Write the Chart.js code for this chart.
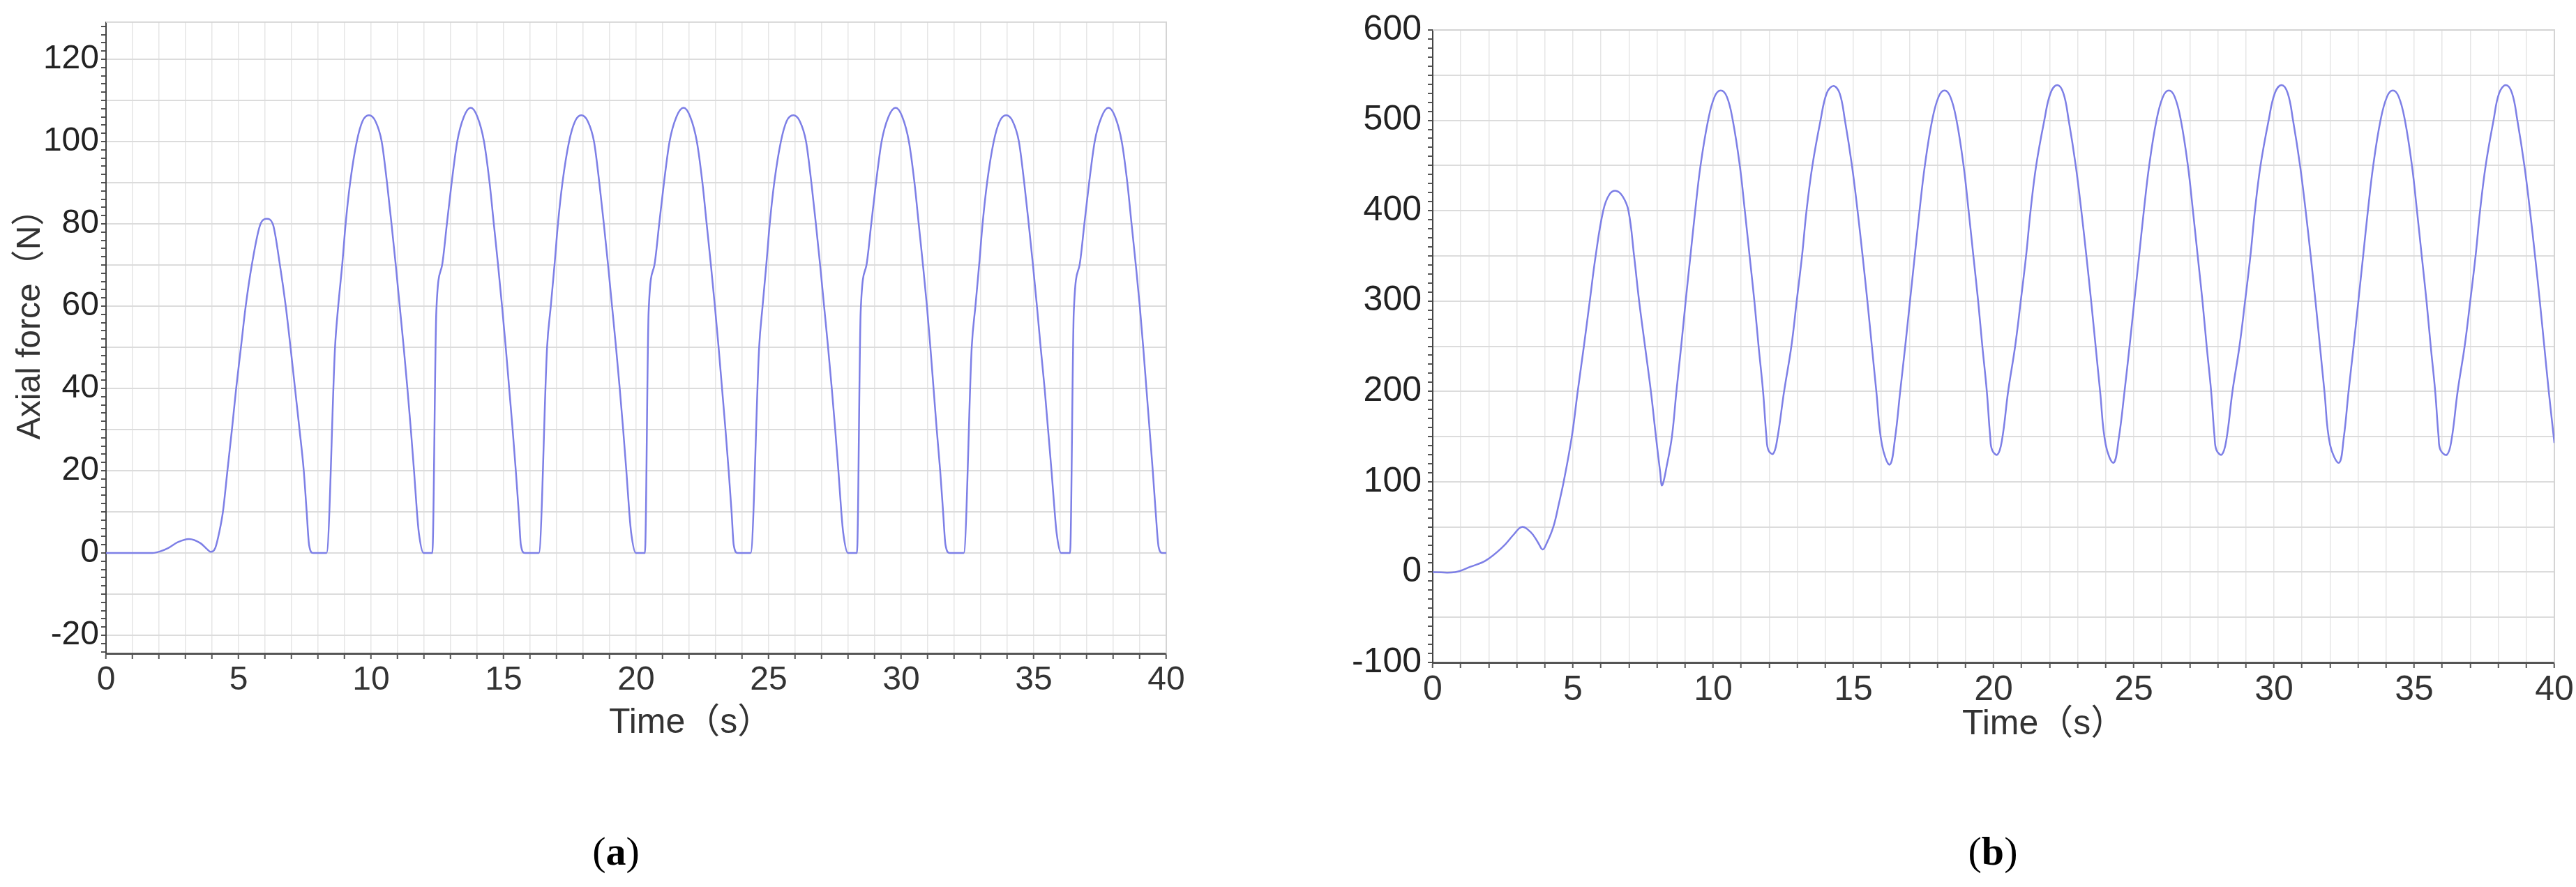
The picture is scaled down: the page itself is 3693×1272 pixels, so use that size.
<!DOCTYPE html>
<html>
<head>
<meta charset="utf-8">
<script src="https://cdn.jsdelivr.net/npm/chart.js@4.4.0/dist/chart.umd.min.js"></script>
<style>
  body { margin: 0; background: #fff; }
  #page { position: relative; width: 3693px; height: 1272px; overflow: hidden; }
  canvas { position: absolute; top: 0; }
  #chart-a { left: 0; }
  #chart-b { left: 1880px; }
  .axis-title {
    position: absolute; white-space: nowrap; color: #333;
    font-family: 'Liberation Sans', Arial, 'Noto Sans CJK SC', sans-serif;
    font-size: 50px; line-height: 60px;
  }
  #ytitle-a { left: -159px; top: 423px; width: 400px; text-align: center; font-size: 48px; transform: rotate(-90deg); }
  .caption {
    position: absolute; top: 1187px; width: 200px; text-align: center;
    font-family: 'Liberation Serif', 'Times New Roman', serif; font-size: 58px; color: #000;
  }
</style>
</head>
<body>
<div id="page">
  <canvas id="chart-a" width="1760" height="1080"></canvas>
  <canvas id="chart-b" width="1813" height="1090"></canvas>
  <div class="axis-title" id="ytitle-a">Axial force（N）</div>
  <div class="axis-title" style="left: 873px; top: 1004px">Time（s）</div>
  <div class="axis-title" style="left: 2813px; top: 1006px">Time（s）</div>
  <div class="caption" style="left: 783px">(<b>a</b>)</div>
  <div class="caption" style="left: 2757px">(<b>b</b>)</div>
</div>
<script>
// (a) axial force, N
const timeA = [
  0, 1.75, 2.05, 2.35, 2.7, 3.13, 3.56, 3.8, 3.94, 4.12, 4.27, 4.41, 4.58, 4.75, 4.91,
  5.09, 5.27, 5.50, 5.83, 6.07, 6.29, 6.56, 6.78, 6.96, 7.13, 7.30, 7.46, 7.57, 7.66, 7.81,
  8.32, 8.64, 8.76, 8.91, 9.04, 9.21, 9.46, 9.68, 9.92, 10.16, 10.40, 10.60, 10.77, 10.93, 11.08,
  11.23, 11.37, 11.50, 11.62, 11.73, 11.80, 11.98,
  12.31, 12.46, 12.68, 12.86, 13.04, 13.25, 13.50, 13.76, 14.01, 14.26, 14.47, 14.63, 14.79, 14.94,
  15.08, 15.21, 15.34, 15.46, 15.57, 15.65, 15.80,
  16.33, 16.64, 16.78, 16.92, 17.05, 17.22, 17.47, 17.70, 17.93, 18.17, 18.41, 18.61, 18.78, 18.94, 19.09,
  19.24, 19.38, 19.51, 19.63, 19.74, 19.81, 19.99,
  20.33, 20.47, 20.69, 20.87, 21.05, 21.26, 21.52, 21.79, 22.04, 22.29, 22.50, 22.66, 22.82, 22.97,
  23.11, 23.24, 23.37, 23.49, 23.60, 23.68, 23.83,
  24.32, 24.64, 24.77, 24.91, 25.04, 25.21, 25.46, 25.68, 25.93, 26.17, 26.41, 26.61, 26.78, 26.94, 27.09,
  27.24, 27.38, 27.51, 27.63, 27.74, 27.81, 27.99,
  28.33, 28.47, 28.69, 28.87, 29.05, 29.26, 29.52, 29.79, 30.04, 30.29, 30.50, 30.66, 30.82, 30.97,
  31.10, 31.22, 31.34, 31.47, 31.58, 31.67, 31.83,
  32.36, 32.66, 32.80, 32.94, 33.07, 33.24, 33.49, 33.72, 33.96, 34.20, 34.44, 34.64, 34.81, 34.97, 35.12,
  35.26, 35.41, 35.54, 35.67, 35.79, 35.86, 36.03,
  36.37, 36.51, 36.73, 36.91, 37.09, 37.30, 37.56, 37.82, 38.07, 38.32, 38.53, 38.69, 38.85, 39.00,
  39.13, 39.25, 39.37, 39.49, 39.60, 39.71, 39.86, 40.0
];
const forceA = [
  0, 0, 0.4, 1.2, 2.6, 3.4, 2.4, 1.0, 0.3, 1.2, 5, 10, 20, 30, 40,
  50, 60, 70, 80, 81.2, 80, 70, 60, 50, 40, 30, 20, 10, 2, 0,
  0, 50, 60, 70, 80, 90, 100, 105, 106.4, 105, 100, 90, 80, 70, 60,
  50, 40, 30, 20, 10, 5, 0,
  0, 58.5, 70, 80, 90, 100, 106, 108.2, 106, 100, 90, 80, 70, 60,
  50, 40, 30, 20, 10, 2, 0,
  0, 50, 60, 70, 80, 90, 100, 105, 106.4, 105, 100, 90, 80, 70, 60,
  50, 40, 30, 20, 10, 5, 0,
  0, 58.5, 70, 80, 90, 100, 106, 108.2, 106, 100, 90, 80, 70, 60,
  50, 40, 30, 20, 10, 2, 0,
  0, 50, 60, 70, 80, 90, 100, 105, 106.4, 105, 100, 90, 80, 70, 60,
  50, 40, 30, 20, 10, 5, 0,
  0, 58.5, 70, 80, 90, 100, 106, 108.2, 106, 100, 90, 80, 70, 60,
  50, 40, 30, 20, 10, 2, 0,
  0, 50, 60, 70, 80, 90, 100, 105, 106.4, 105, 100, 90, 80, 70, 60,
  50, 40, 30, 20, 10, 5, 0,
  0, 58.5, 70, 80, 90, 100, 106, 108.2, 106, 100, 90, 80, 70, 60,
  50, 40, 30, 20, 10, 1.5, 0, 0
];

// (b) second signal
const timeB = [
  0, 0.8, 1.35, 1.9, 2.5, 2.9, 3.18, 3.5, 3.75, 3.92,
  4.05, 4.3, 4.5, 4.67, 4.96, 5.17, 5.39, 5.60, 5.81, 6.08,
  6.3, 6.54, 6.77, 6.98, 7.18, 7.36, 7.57, 7.78, 7.96, 8.11, 8.18,
  8.36, 8.53, 8.69, 8.86, 9.02, 9.19, 9.36, 9.55, 9.82, 10.05, 10.27,
  10.49, 10.70, 10.95, 11.13, 11.30, 11.47, 11.62, 11.78, 11.90, 11.97, 12.14,
  12.28, 12.53, 12.79, 12.98, 13.17, 13.33, 13.54, 13.83, 14.05, 14.29,
  14.51, 14.70, 14.95, 15.15, 15.33, 15.50, 15.66, 15.82, 16.02, 16.30,
  16.49, 16.67, 16.85, 17.02, 17.19, 17.36, 17.55, 17.81, 18.04, 18.25,
  18.46, 18.68, 18.93, 19.11, 19.28, 19.45, 19.60, 19.76, 19.88, 19.95, 20.14,
  20.30, 20.52, 20.77, 20.97, 21.16, 21.32, 21.52, 21.81, 22.03, 22.27,
  22.49, 22.68, 22.93, 23.13, 23.31, 23.48, 23.64, 23.80, 24.00, 24.28,
  24.47, 24.67, 24.85, 25.02, 25.19, 25.36, 25.55, 25.81, 26.04, 26.25,
  26.46, 26.68, 26.93, 27.11, 27.28, 27.45, 27.60, 27.76, 27.88, 27.95, 28.14,
  28.30, 28.52, 28.77, 28.97, 29.16, 29.32, 29.52, 29.81, 30.03, 30.27,
  30.49, 30.68, 30.93, 31.13, 31.31, 31.48, 31.64, 31.80, 32.00, 32.32,
  32.49, 32.66, 32.84, 33.01, 33.18, 33.35, 33.54, 33.80, 34.03, 34.24,
  34.45, 34.67, 34.92, 35.10, 35.27, 35.44, 35.59, 35.75, 35.87, 35.94, 36.17,
  36.33, 36.55, 36.80, 37.00, 37.19, 37.35, 37.55, 37.83, 38.03, 38.27,
  38.49, 38.68, 38.93, 39.13, 39.31, 39.48, 39.64, 39.80, 40.0
];
const forceB = [
  0, 0, 6, 13, 28, 42, 50, 44, 33, 25,
  31, 50, 76, 100, 150, 200, 250, 300, 350, 400,
  418, 422, 416, 400, 350, 300, 250, 200, 150, 111, 96,
  120, 150, 200, 250, 300, 350, 400, 450, 500, 526, 533,
  526, 500, 450, 400, 350, 300, 250, 200, 150, 135, 131,
  146, 200, 250, 300, 350, 400, 450, 500, 530, 538,
  530, 500, 450, 400, 350, 300, 250, 200, 141, 119,
  149, 200, 250, 300, 350, 400, 450, 500, 526, 533,
  526, 500, 450, 400, 350, 300, 250, 200, 150, 135, 130,
  146, 200, 250, 300, 350, 400, 450, 500, 530, 539,
  530, 500, 450, 400, 350, 300, 250, 200, 141, 121,
  149, 200, 250, 300, 350, 400, 450, 500, 526, 533,
  526, 500, 450, 400, 350, 300, 250, 200, 150, 135, 130,
  146, 200, 250, 300, 350, 400, 450, 500, 530, 539,
  530, 500, 450, 400, 350, 300, 250, 200, 141, 121,
  149, 200, 250, 300, 350, 400, 450, 500, 526, 533,
  526, 500, 450, 400, 350, 300, 250, 200, 150, 135, 130,
  146, 200, 250, 300, 350, 400, 450, 500, 530, 539,
  530, 500, 450, 400, 350, 300, 250, 200, 143
];

const xLabels = [0, 5, 10, 15, 20, 25, 30, 35, 40];
const yLabelsA = [-20, 0, 20, 40, 60, 80, 100, 120];
const yLabelsB = [-100, 0, 100, 200, 300, 400, 500, 600];

const lineColor = '#7d7fe6';
const fontFamily = "'Liberation Sans', Arial, sans-serif";

// light border on top and right of the plot area
const frame = {
  id: 'frame',
  beforeDatasetsDraw(chart) {
    const { ctx, chartArea: area } = chart;
    ctx.save();
    ctx.strokeStyle = '#d4d4d4';
    ctx.lineWidth = 2;
    ctx.beginPath();
    ctx.moveTo(area.left, area.top);
    ctx.lineTo(area.right, area.top);
    ctx.lineTo(area.right, area.bottom);
    ctx.stroke();
    ctx.restore();
  }
};

function makeChart(id, times, values, cfg) {
  return new Chart(document.getElementById(id), {
    type: 'line',
    data: {
      datasets: [{
        data: times.map((t, i) => ({ x: t, y: values[i] })),
        borderColor: lineColor,
        borderWidth: 2.5,
        pointRadius: 0,
        cubicInterpolationMode: cfg.interp,
        tension: cfg.tension,
        fill: false
      }]
    },
    options: {
      responsive: false,
      devicePixelRatio: 1,
      animation: false,
      events: [],
      layout: { padding: cfg.padding },
      plugins: { legend: { display: false }, tooltip: { enabled: false } },
      scales: {
        x: {
          type: 'linear',
          min: 0,
          max: 40,
          afterFit: (scale) => { scale.height = cfg.xHeight; },
          ticks: {
            stepSize: 1,
            autoSkip: false,
            maxRotation: 0,
            padding: cfg.xTickPad,
            color: '#333',
            font: { family: fontFamily, size: cfg.xFont },
            callback: (v) => xLabels.includes(v) ? String(v) : ''
          },
          grid: { color: '#e6e6e6', lineWidth: 1.5, tickColor: '#555', tickWidth: 2, tickLength: 8 },
          border: { color: '#555', width: 3 }
        },
        y: {
          min: cfg.yMin,
          max: cfg.yMax,
          afterFit: (scale) => { scale.width = cfg.yWidth; },
          ticks: {
            stepSize: cfg.minorStep,
            includeBounds: false,
            autoSkip: false,
            padding: cfg.yTickPad,
            color: '#222',
            font: { family: fontFamily, size: cfg.yFont },
            callback: (v) => cfg.yLabels.includes(v) ? String(v) : ''
          },
          grid: {
            color: (c) => (c.tick && c.tick.value % cfg.gridStep === 0) ? '#dcdcdc' : 'rgba(0,0,0,0)',
            lineWidth: 2,
            tickColor: '#555',
            tickWidth: 2,
            tickLength: 7
          },
          border: { color: '#444', width: 2 }
        }
      }
    },
    plugins: [frame]
  });
}

makeChart('chart-a', timeA, forceA, {
  interp: 'monotone', tension: 0,
  padding: { top: 16, right: 88, bottom: 0, left: 0 },
  xHeight: 143, xTickPad: 2, xFont: 48,
  yMin: -24.4, yMax: 129, minorStep: 2, gridStep: 10, yLabels: yLabelsA,
  yWidth: 152, yTickPad: 3, yFont: 48
});

makeChart('chart-b', timeB, forceB, {
  interp: 'default', tension: 0.4,
  padding: { top: 43, right: 31, bottom: 0, left: 0 },
  xHeight: 140, xTickPad: 2, xFont: 50,
  yMin: -100, yMax: 600, minorStep: 10, gridStep: 50, yLabels: yLabelsB,
  yWidth: 174, yTickPad: 9, yFont: 50
});
</script>
</body>
</html>
